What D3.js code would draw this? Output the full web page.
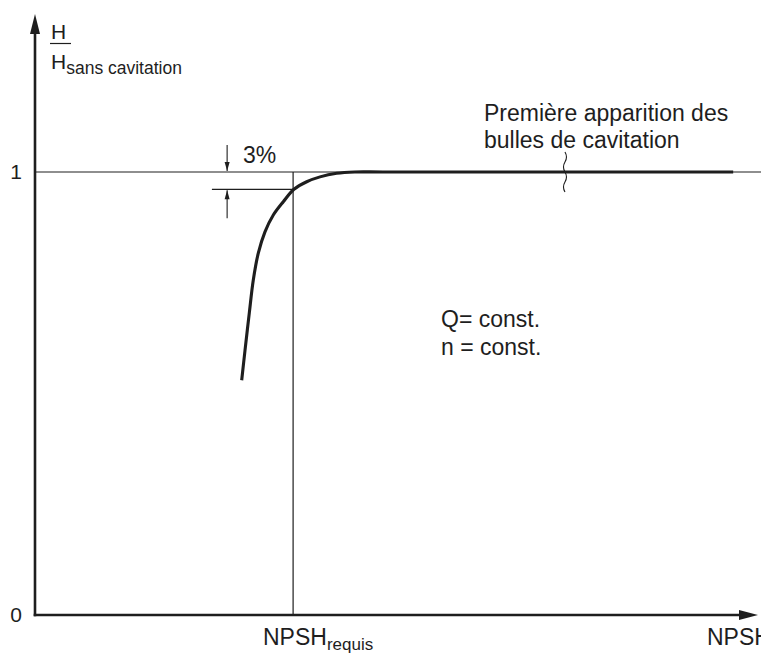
<!DOCTYPE html>
<html><head><meta charset="utf-8">
<script src="https://cdn.jsdelivr.net/npm/d3@7/dist/d3.min.js"></script>
<style>body{margin:0;background:#fff}svg{display:block}text{font-family:"Liberation Sans",Arial,Helvetica,sans-serif;fill:#1e1e1e}</style>
</head><body>
<script>
// Data (NPSH in arbitrary units 0..100, H/H0 ratio)
const curveNPSH = [28.51, 28.97, 29.56, 30.11, 30.80, 31.72, 32.87, 34.25, 35.72, 37.48, 39.31, 41.61, 44.1, 48.0, 92.0, 96.3];
const curveH    = [0.530, 0.598, 0.682, 0.756, 0.817, 0.865, 0.903, 0.933, 0.961, 0.978, 0.989, 0.997, 1.0, 1.0, 1.0, 1.0];
const npshRequis = 35.6;
const dropLevel = 0.961;
const yTickValues = [0, 1];
const yTickLabels = ["0", "1"];

const W = 761, H = 654;
const svg = d3.select("body").append("svg").attr("width", W).attr("height", H);
const x = d3.scaleLinear().domain([0, 100]).range([35, 760]);
const y = d3.scaleLinear().domain([0, 1]).range([615, 172]);
const ink = "#1e1e1e";
const FS = 23;

// reference lines
svg.append("line").attr("x1", x(0)).attr("x2", W).attr("y1", y(1)).attr("y2", y(1))
  .attr("stroke", ink).attr("stroke-width", 1.2);
svg.append("line").attr("x1", x(24.4)).attr("x2", x(npshRequis)).attr("y1", y(dropLevel)).attr("y2", y(dropLevel))
  .attr("stroke", ink).attr("stroke-width", 1.2);
svg.append("line").attr("x1", x(npshRequis)).attr("x2", x(npshRequis)).attr("y1", y(1)).attr("y2", y(0))
  .attr("stroke", ink).attr("stroke-width", 1.2);

// 3% arrows
const ax = x(26.5);
function arrow(x0, yFrom, yTo) {
  svg.append("line").attr("x1", x0).attr("x2", x0).attr("y1", yFrom).attr("y2", yTo)
    .attr("stroke", ink).attr("stroke-width", 1.1);
  const d = yTo > yFrom ? -1 : 1;
  svg.append("path").attr("d", `M${x0},${yTo} L${x0-2.5},${yTo+d*9} L${x0+2.5},${yTo+d*9} Z`).attr("fill", ink);
}
arrow(ax, y(1) - 27, y(1) - 1);
arrow(ax, y(dropLevel) + 29, y(dropLevel) + 1);
svg.append("text").attr("x", 243).attr("y", 163).attr("font-size", FS).text("3%");

// curve
const line = d3.line().x((d, i) => x(curveNPSH[i])).y(d => y(d)).curve(d3.curveCatmullRom.alpha(0.5));
svg.append("path").datum(curveH).attr("d", line).attr("fill", "none")
  .attr("stroke", ink).attr("stroke-width", 3.1).attr("stroke-linecap", "butt");

// squiggle
const sx = x(73.1), sy0 = y(1) - 20;
let sq = `M${sx},${sy0}`;
for (let i = 0; i < 4; i++) {
  const yy = sy0 + i * 10;
  const dx = i % 2 === 0 ? 3 : -3;
  sq += ` Q${sx + dx},${yy + 5} ${sx},${yy + 10}`;
}
svg.append("path").attr("d", sq).attr("fill", "none").attr("stroke", ink).attr("stroke-width", 1.1);

// axes
const yAxis = d3.axisLeft(y).tickValues(yTickValues).tickFormat((d, i) => yTickLabels[i]).tickSize(0).tickPadding(13);
const gy = svg.append("g").attr("transform", `translate(${x(0)},0)`).call(yAxis);
gy.select(".domain").remove();
gy.selectAll("text").attr("font-size", 21).attr("font-family", "Liberation Sans, Arial, sans-serif").attr("fill", ink);

svg.append("line").attr("x1", x(0)).attr("x2", x(0)).attr("y1", y(0) + 1.2).attr("y2", 30)
  .attr("stroke", ink).attr("stroke-width", 2.6);
svg.append("path").attr("d", `M${x(0)},14 L${x(0)-5},34 L${x(0)+5},34 Z`).attr("fill", ink);
svg.append("line").attr("x1", x(0) - 1.3).attr("x2", 745).attr("y1", y(0)).attr("y2", y(0))
  .attr("stroke", ink).attr("stroke-width", 2.6);
svg.append("path").attr("d", `M758,${y(0)} L739,${y(0)-5} L739,${y(0)+5} Z`).attr("fill", ink);

// y label
svg.append("text").attr("x", 51).attr("y", 39).attr("font-size", 21).text("H");
svg.append("line").attr("x1", 50).attr("x2", 71).attr("y1", 43.5).attr("y2", 43.5).attr("stroke", ink).attr("stroke-width", 1.2);
const yl = svg.append("text").attr("x", 51).attr("y", 69).attr("font-size", 21);
yl.append("tspan").text("H");
yl.append("tspan").attr("font-size", 17.5).attr("dy", 5).text("sans cavitation");

// annotations
const ann = svg.append("text").attr("font-size", FS);
ann.append("tspan").attr("x", 484).attr("y", 121).text("Première apparition des");
ann.append("tspan").attr("x", 484).attr("y", 148).text("bulles de cavitation");
svg.append("text").attr("x", 441).attr("y", 327).attr("font-size", FS).text("Q= const.");
svg.append("text").attr("x", 441).attr("y", 355).attr("font-size", FS).text("n = const.");

// x labels
const xl = svg.append("text").attr("x", 263).attr("y", 645).attr("font-size", FS);
xl.append("tspan").text("NPSH");
xl.append("tspan").attr("font-size", 17).attr("dy", 5).text("requis");
svg.append("text").attr("x", 707).attr("y", 645).attr("font-size", FS).text("NPSH");
</script>
</body></html>
